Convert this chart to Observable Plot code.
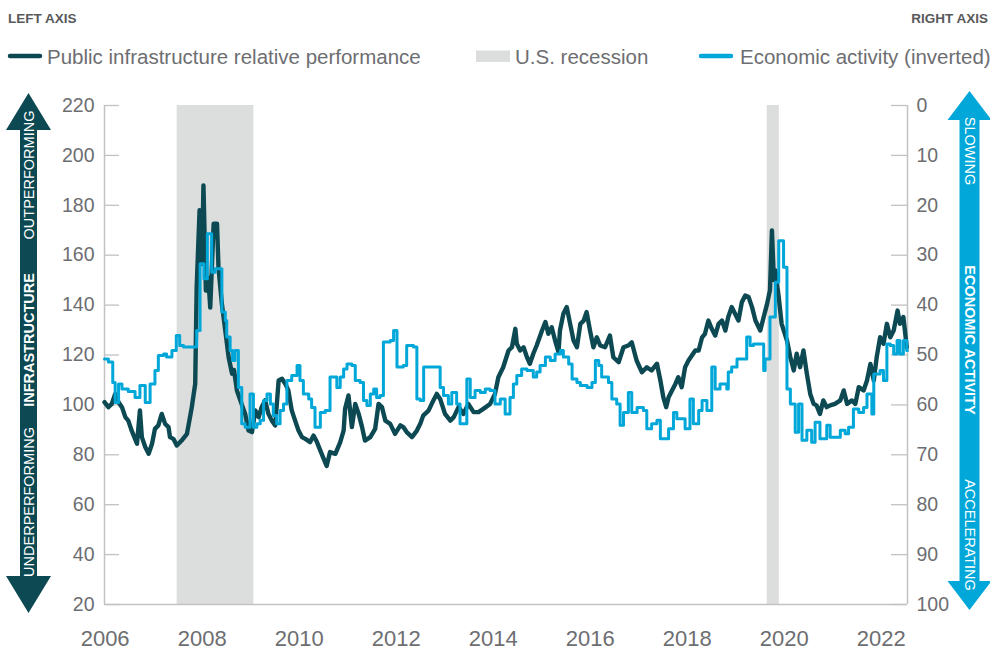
<!DOCTYPE html>
<html><head><meta charset="utf-8">
<script src="https://cdn.jsdelivr.net/npm/d3@7"></script>
<script src="https://cdn.jsdelivr.net/npm/@observablehq/plot@0.6"></script>
<style>
body{margin:0;background:#fff;}
#wrap{width:990px;height:650px;position:relative;overflow:hidden;background:#fff;}
svg{display:block}
</style></head><body><div id="wrap"></div>
<script>
// ---------- data ----------
const leftTicks = [20, 40, 60, 80, 100, 120, 140, 160, 180, 200, 220];
const rightTicks = [0, 10, 20, 30, 40, 50, 60, 70, 80, 90, 100];
const yearTicks = [2006, 2008, 2010, 2012, 2014, 2016, 2018, 2020, 2022];

const recessionStart = [2007.917, 2020.083];
const recessionEnd = [2009.5, 2020.333];

// Public infrastructure relative performance (left axis)
const infraT = [2006.42,2006.50,2006.57,2006.64,2006.71,2006.78,2006.85,2006.91,2006.98,2007.05,2007.09,2007.15,2007.19,2007.26,2007.33,2007.40,2007.46,2007.53,2007.60,2007.67,2007.74,2007.77,2007.84,2007.91,2008.01,2008.12,2008.22,2008.29,
2008.32,2008.38,2008.43,2008.46,2008.51,2008.56,2008.60,2008.67,2008.74,2008.77,2008.84,2008.91,2008.98,2009.05,2009.09,2009.15,2009.22,2009.32,2009.39,2009.46,2009.53,2009.60,2009.66,2009.73,2009.80,2009.87,2009.94,
2010.01,2010.08,2010.15,2010.21,2010.28,2010.35,2010.42,2010.49,2010.56,2010.66,2010.73,2010.80,2010.87,2010.94,2011.00,2011.07,2011.18,2011.28,2011.35,2011.38,2011.45,2011.52,2011.59,2011.66,2011.73,2011.79,2011.90,2012.00,2012.07,2012.14,2012.21,2012.31,2012.41,2012.52,
2012.58,2012.65,2012.76,2012.86,2012.93,2012.99,2013.10,2013.20,2013.27,2013.34,2013.44,2013.55,2013.62,2013.72,2013.82,2013.92,2014.03,2014.13,2014.23,2014.37,2014.47,2014.54,2014.64,2014.75,2014.82,2014.89,2014.92,2014.99,2015.06,2015.13,2015.19,2015.26,2015.33,2015.44,2015.51,2015.57,2015.64,2015.71,2015.78,
2015.81,2015.88,2015.95,2016.02,2016.09,2016.16,2016.23,2016.30,2016.36,2016.43,2016.50,2016.57,2016.64,2016.74,2016.84,2016.91,2017.02,2017.12,2017.22,2017.29,2017.39,2017.50,2017.60,2017.70,2017.81,2017.88,2017.94,2018.00,2018.05,2018.12,2018.19,2018.25,2018.32,2018.39,2018.46,2018.53,2018.60,2018.67,2018.74,2018.80,2018.87,2018.94,
2019.01,2019.08,2019.15,2019.22,2019.28,2019.35,2019.42,2019.49,2019.56,2019.63,2019.70,2019.77,2019.84,2019.94,2020.01,2020.08,2020.14,2020.18,2020.22,2020.25,2020.32,2020.38,2020.49,2020.56,2020.63,2020.69,2020.76,2020.83,2020.90,2020.97,
2021.04,2021.10,2021.17,2021.24,2021.31,2021.38,2021.48,2021.59,2021.66,2021.73,2021.83,2021.90,2021.97,2022.07,2022.14,2022.21,2022.28,2022.34,2022.41,2022.48,2022.55,2022.62,2022.69,2022.77,2022.82,2022.89,2022.96];
const infraV = [101.1,99.1,100.4,104.4,101.1,99.1,95.1,93.7,89.7,86.4,84.4,97.8,87.1,83.1,80.4,84.4,90.4,91.8,96.4,92.4,91.1,87.1,86.4,83.7,85.7,88.4,99.1,108.4,
147,178,156.5,188,145.8,151,139,172.6,172.6,155,140.5,129.8,119,112.5,114,105.8,101.8,96.4,89.7,89.1,97.8,95.1,99.1,101.8,96.4,93.7,91.8,
109.8,110.5,108.4,105.8,97.8,93.7,89.7,87.1,86.4,85.1,87.7,85.1,81.7,78.4,75.5,81.1,80.4,85.1,89.7,98.4,103.8,91.1,100.4,96.4,91.1,85.7,87.1,90.4,100.4,99.1,93.7,92.4,88.4,91.8,
91.1,89.1,87.1,89.7,92.4,95.7,97.7,101.8,104.4,102.4,96.4,93.7,95.1,99.1,96.4,100.4,97.1,97.1,98.4,100.4,104.4,111.1,115.1,121.8,123.1,130.5,124.5,121.8,123.1,119.1,116.5,120.5,123.8,129.8,133.2,128.5,131.1,125.8,121.1,
129.8,136.5,139.2,132.5,125.8,123.1,132.5,133.8,137.2,129.8,123.1,127.1,123.8,123.1,127.8,119.1,117.1,123.1,123.8,125.1,117.8,113.1,115.1,113.8,116.5,109.8,103.1,99.1,103.1,105.8,108.4,111.1,107.1,115.1,117.8,119.8,121.8,121.8,127.1,128.5,133.8,130.5,
127.8,132.5,133.8,129.8,135.2,139.2,136.5,133.8,141.2,143.8,143.2,139.2,133.8,129.8,135.2,140.5,146,169.9,150,153.9,143.2,132.5,125.8,119.1,113.8,120.5,115.1,121.8,112.5,104.4,
100.4,99.8,96.4,101.8,99.1,99.8,100.4,101.8,105.8,100.4,101.8,100.4,107.1,105.8,109.8,116.4,109.8,119.1,127.1,124.5,132.5,127.1,129.8,137.8,132.5,135.2,123.1];

// Economic activity (right axis, inverted), monthly steps
const econT = [2006.42,2006.50,2006.59,2006.64,2006.71,2006.78,2006.91,2007.05,2007.15,2007.26,2007.36,2007.46,2007.53,2007.64,2007.70,2007.81,2007.90,2007.97,2008.05,2008.32,2008.39,2008.47,2008.54,2008.63,2008.70,2008.84,2008.91,2008.94,2009.01,2009.06,2009.11,2009.18,2009.25,2009.32,2009.42,2009.49,2009.56,2009.63,2009.70,2009.77,2009.84,2009.90,2009.97,2010.04,2010.11,2010.18,2010.28,2010.39,2010.45,2010.52,2010.63,2010.69,2010.76,2010.87,2010.97,2011.07,2011.21,2011.28,2011.35,2011.42,2011.52,2011.59,2011.69,2011.76,2011.83,2011.90,2011.97,2012.03,2012.10,
2012.17,2012.31,2012.38,2012.45,2012.58,2012.65,2012.79,2012.86,2012.93,2013.00,2013.34,2013.41,2013.51,2013.58,2013.68,2013.75,2013.89,2013.96,2014.06,2014.17,2014.27,2014.37,2014.47,2014.58,2014.68,2014.78,2014.85,2014.92,2015.02,2015.13,2015.26,2015.33,2015.40,2015.51,2015.61,2015.71,2015.82,2015.88,2015.99,2016.06,2016.16,2016.23,2016.37,2016.47,2016.54,2016.61,2016.67,2016.81,2016.88,2016.98,2017.05,2017.12,2017.22,2017.29,2017.40,2017.53,2017.60,2017.70,2017.81,
2017.88,2018.05,2018.15,2018.22,2018.39,2018.49,2018.56,2018.67,2018.74,2018.84,2018.94,2019.01,2019.11,2019.25,2019.28,2019.35,2019.46,2019.66,2019.73,2019.80,2020.01,2020.04,2020.14,2020.25,2020.32,2020.42,2020.49,2020.56,2020.66,2020.73,2020.80,2020.90,2021.00,2021.07,2021.17,2021.31,2021.38,2021.59,2021.69,2021.76,2021.86,2021.97,2022.07,2022.14,2022.24,2022.28,2022.41,2022.48,2022.55,2022.62,2022.69,2022.76,2022.82,2022.89,2022.96,2022.975];
const econV = [50.8,51.4,55.5,59.5,55.8,56.8,57.3,58.5,56.1,59.5,55.8,53.1,50.1,49.8,50.4,49.1,46.1,48.1,48.4,45.1,31.7,34.7,25.7,33.4,32.7,41.4,43.1,46.4,49.1,51.1,49.1,56.5,63.8,64.5,57.8,64.5,63.8,63.1,59.1,57.8,59.8,62.1,63.8,61.1,59.8,55.1,54.1,52.1,55.1,57.8,58.8,60.5,64.5,61.5,61.1,54.4,56.5,54.4,52.8,51.8,52.1,55.1,55.5,59.1,60.1,57.8,56.8,58.5,58.1,
47.4,47.1,45.1,52.4,52.1,48.1,48.4,58.8,59.1,52.4,56.5,58.1,59.8,57.5,59.8,63.8,54.8,58.5,57.1,57.5,56.8,57.1,59.8,58.8,61.8,58.5,55.8,54.1,52.8,53.1,54.4,53.4,52.1,50.4,51.1,49.8,49.1,50.4,51.8,54.8,55.5,56.1,56.5,55.5,51.1,52.1,54.4,55.5,58.8,59.8,64.1,61.5,57.5,61.5,60.5,61.1,64.8,63.8,63.1,
66.8,64.8,61.5,62.8,64.8,58.8,63.8,61.1,59.1,61.1,52.4,56.8,55.8,56.8,53.4,52.4,50.8,46.4,48.1,47.8,53.1,50.8,42.4,35.4,27.1,32.4,56.8,59.8,65.5,59.8,67.1,65.1,67.5,63.5,66.8,64.1,66.5,65.1,65.8,64.5,60.8,61.5,60.5,57.8,61.8,53.8,53.1,55.1,47.8,48.1,49.8,47.1,49.8,47.1,49.1,49.1];

// ---------- styling ----------
const FONT = "'Liberation Sans', Arial, Helvetica, sans-serif";
const DARK = "#0c4952";
const BLUE = "#00a7d8";
const GRAY_BAND = "#dcdddd";
const AXIS = "#c2c2c2";
const TEXT = "#6d6e71";
const HEAD = "#58595b";

const infra = infraT.map((t, i) => ({t, v: infraV[i]}));
const econ = econT.map((t, i) => ({t, r: econV[i]}));
const recessions = recessionStart.map((s, i) => ({start: s, end: recessionEnd[i]}));
const toLeft = r => 220 - 2 * r; // right axis 0..100 (inverted) onto left 220..20

const wrap = d3.select("#wrap");

// ---------- header + legend ----------
const head = wrap.append("svg").attr("width", 990).attr("height", 80)
  .style("font-family", FONT);
head.append("text").attr("x", 8).attr("y", 23).attr("font-size", 13.5).attr("font-weight", "bold")
  .attr("fill", HEAD).text("LEFT AXIS");
head.append("text").attr("x", 988).attr("y", 23).attr("text-anchor", "end").attr("font-size", 13.5)
  .attr("font-weight", "bold").attr("fill", HEAD).text("RIGHT AXIS");
head.append("line").attr("x1", 10).attr("x2", 40).attr("y1", 56).attr("y2", 56)
  .attr("stroke", DARK).attr("stroke-width", 4.5).attr("stroke-linecap", "round");
head.append("text").attr("x", 47).attr("y", 63.5).attr("font-size", 20.5).attr("fill", TEXT)
  .text("Public infrastructure relative performance");
head.append("rect").attr("x", 476).attr("y", 50.5).attr("width", 34).attr("height", 11.5).attr("fill", GRAY_BAND);
head.append("text").attr("x", 515).attr("y", 63.5).attr("font-size", 20.5).attr("fill", TEXT).text("U.S. recession");
head.append("line").attr("x1", 701).attr("x2", 731).attr("y1", 56).attr("y2", 56)
  .attr("stroke", BLUE).attr("stroke-width", 4.5).attr("stroke-linecap", "round");
head.append("text").attr("x", 740).attr("y", 63.5).attr("font-size", 20.5).attr("fill", TEXT)
  .text("Economic activity (inverted)");

// ---------- chart ----------
const innerW = 990 - 104 - 83;
const chart = Plot.plot({
  width: 990, height: 570,
  marginLeft: 104, marginRight: 83, marginTop: 25, marginBottom: 46,
  x: {type: "linear", domain: [2006.42, 2022.975], axis: null},
  y: {domain: [20, 220], axis: null},
  style: {fontFamily: FONT, color: TEXT, background: "white", overflow: "visible"},
  marks: [
    Plot.rect(recessions, {x1: "start", x2: "end", fill: GRAY_BAND}),
    Plot.ruleY(leftTicks, {stroke: AXIS, strokeWidth: 1.3, insetRight: innerW - 15}),
    Plot.ruleY(rightTicks, {y: toLeft, stroke: AXIS, strokeWidth: 1.3, insetLeft: innerW - 16}),
    Plot.ruleX([2006.42, 2022.975], {stroke: AXIS, strokeWidth: 1.5}),
    Plot.ruleY([20], {stroke: AXIS, strokeWidth: 1.5}),
    Plot.line(infra, {x: "t", y: "v", stroke: DARK, strokeWidth: 4.4, strokeLinejoin: "round"}),
    Plot.line(econ, {x: "t", y: d => toLeft(d.r), stroke: BLUE, strokeWidth: 3, curve: "step-after", strokeLinejoin: "round"}),
    Plot.axisY(leftTicks, {anchor: "left", tickSize: 0, tickPadding: 10, fontSize: 19.5, label: null, tickFormat: d => String(d)}),
    Plot.axisY(rightTicks.map(toLeft), {anchor: "right", tickSize: 0, tickPadding: 9, fontSize: 19.5, label: null, tickFormat: d => String((220 - d) / 2)}),
    Plot.axisX(yearTicks, {anchor: "bottom", tickSize: 0, tickPadding: 26, fontSize: 22, dx: 21, label: null, tickFormat: d => String(d)})
  ]
});
wrap.node().appendChild(chart);

// ---------- side arrows (annotation) ----------
const svg = d3.select(chart);
function arrow(cx, top, bottom, headHalf, headLen, shaftHalf, color) {
  const pts = [
    [cx, top], [cx + headHalf, top + headLen], [cx + shaftHalf, top + headLen],
    [cx + shaftHalf, bottom - headLen], [cx + headHalf, bottom - headLen], [cx, bottom],
    [cx - headHalf, bottom - headLen], [cx - shaftHalf, bottom - headLen],
    [cx - shaftHalf, top + headLen], [cx - headHalf, top + headLen]
  ];
  svg.append("polygon").attr("points", pts.map(p => p.join(",")).join(" ")).attr("fill", color);
}
function label(x, y, rot, txt, bold) {
  svg.append("text").attr("transform", `translate(${x},${y}) rotate(${rot})`)
    .attr("text-anchor", "middle").attr("dominant-baseline", "central")
    .attr("font-family", FONT).attr("font-size", 14.5).attr("fill", "white")
    .attr("font-weight", bold ? "bold" : "normal").text(txt);
}
arrow(28.5, 13, 533, 22.5, 37, 8.5, DARK);
label(28.5, 422, -90, "UNDERPERFORMING", false);
label(28.5, 260, -90, "INFRASTRUCTURE", true);
label(28.5, 95, -90, "OUTPERFORMING", false);
arrow(969.5, 11, 530, 22, 29, 10, BLUE);
label(969.5, 71, 90, "SLOWING", false);
label(969.5, 260, 90, "ECONOMIC ACTIVITY", true);
label(969.5, 455, 90, "ACCELERATING", false);
</script></body></html>
